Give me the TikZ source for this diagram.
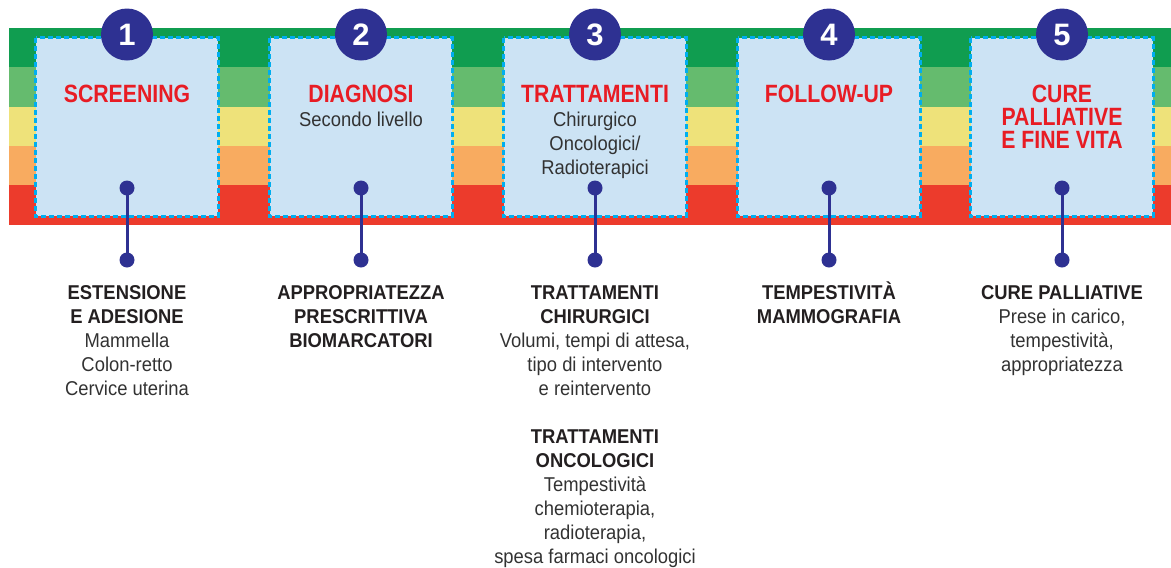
\documentclass[tikz,border=0pt]{standalone}
\usepackage{fontspec}
\setmainfont{Liberation Sans}[FakeStretch=0.92]
\newfontfamily\titlefont{Liberation Sans}[FakeStretch=0.85]
\newfontfamily\numfont{Liberation Sans}
\definecolor{navy}{RGB}{46,49,146}
\definecolor{sgreenA}{RGB}{16,157,80}
\definecolor{sgreenB}{RGB}{101,187,110}
\definecolor{syellow}{RGB}{238,226,122}
\definecolor{sorange}{RGB}{248,171,96}
\definecolor{sred}{RGB}{236,59,44}
\definecolor{boxfill}{RGB}{204,227,244}
\definecolor{dashcyan}{RGB}{0,174,239}
\definecolor{titlered}{RGB}{232,28,36}
\definecolor{darktext}{RGB}{35,31,32}
\definecolor{greytext}{RGB}{50,50,50}
\tikzset{
  phasebox/.style={fill=boxfill, minimum width=182pt, minimum height=178pt, inner sep=0pt},
  dashborder/.style={draw=dashcyan, line width=3pt, dash pattern=on 5pt off 3pt},
  numcircle/.style={circle, fill=navy, minimum size=52pt, inner sep=0pt, text=white,
    font=\numfont\bfseries\fontsize{31}{31}\selectfont},
  dotnode/.style={circle, fill=navy, minimum size=15pt, inner sep=0pt},
  conn/.style={draw=navy, line width=3pt},
  titletext/.style={anchor=base, inner sep=0pt, align=center, text=titlered,
    font=\titlefont\bfseries\fontsize{25}{23}\selectfont},
  subtext/.style={anchor=base, inner sep=0pt, align=center, text=greytext,
    font=\fontsize{20}{24}\selectfont},
  lowtext/.style={anchor=base, inner sep=0pt, align=center, text=greytext,
    font=\fontsize{20}{24}\selectfont},
}
\newcommand{\hd}[1]{\textcolor{darktext}{\bfseries #1}}
\begin{document}
\begin{tikzpicture}[x=1pt, y=-1pt]
\useasboundingbox (0,0) rectangle (1171,568);
% stripes
\fill[sgreenA] (9,28) rectangle (1171,67.5);
\fill[sgreenB] (9,67) rectangle (1171,107);
\fill[syellow] (9,106.5) rectangle (1171,146.5);
\fill[sorange] (9,146) rectangle (1171,185.5);
\fill[sred]    (9,185) rectangle (1171,225);
% boxes
\foreach \i/\x in {1/127,2/361,3/595,4/829,5/1062}{
  \node[phasebox] (box\i) at (\x,127) {};
  \draw[dashborder] (box\i.north west) rectangle (box\i.south east);
  \node[numcircle] (num\i) at (\x,34.5) {\i};
  \node[dotnode] (top\i) at (\x,188) {};
  \node[dotnode] (bot\i) at (\x,260) {};
  \draw[conn] (top\i.center) -- (bot\i.center);
}
% titles (anchor base = baseline of last line)
\node[titletext] (t1) at (127,102) {SCREENING};
\node[titletext] (t2) at (361,102) {DIAGNOSI};
\node[subtext] (s2) at (361,126) {Secondo livello};
\node[titletext] (t3) at (595,102) {TRATTAMENTI};
\node[subtext] (s3) at (595,174) {Chirurgico\\Oncologici/\\Radioterapici};
\node[titletext] (t4) at (829,102) {FOLLOW-UP};
\node[titletext] (t5) at (1062,148) {CURE\\PALLIATIVE\\E FINE VITA};
% lower texts
\node[lowtext] (l1) at (127,395) {\hd{ESTENSIONE}\\\hd{E ADESIONE}\\Mammella\\Colon-retto\\Cervice uterina};
\node[lowtext] (l2) at (361,347) {\hd{APPROPRIATEZZA}\\\hd{PRESCRITTIVA}\\\hd{BIOMARCATORI}};
\node[lowtext] (l3) at (595,563) {\hd{TRATTAMENTI}\\\hd{CHIRURGICI}\\Volumi, tempi di attesa,\\tipo di intervento\\e reintervento\\[24pt]\hd{TRATTAMENTI}\\\hd{ONCOLOGICI}\\Tempestività\\chemioterapia,\\radioterapia,\\spesa farmaci oncologici};
\node[lowtext] (l4) at (829,323) {\hd{TEMPESTIVITÀ}\\\hd{MAMMOGRAFIA}};
\node[lowtext] (l5) at (1062,371) {\hd{CURE PALLIATIVE}\\Prese in carico,\\tempestività,\\appropriatezza};
\end{tikzpicture}
\end{document}
